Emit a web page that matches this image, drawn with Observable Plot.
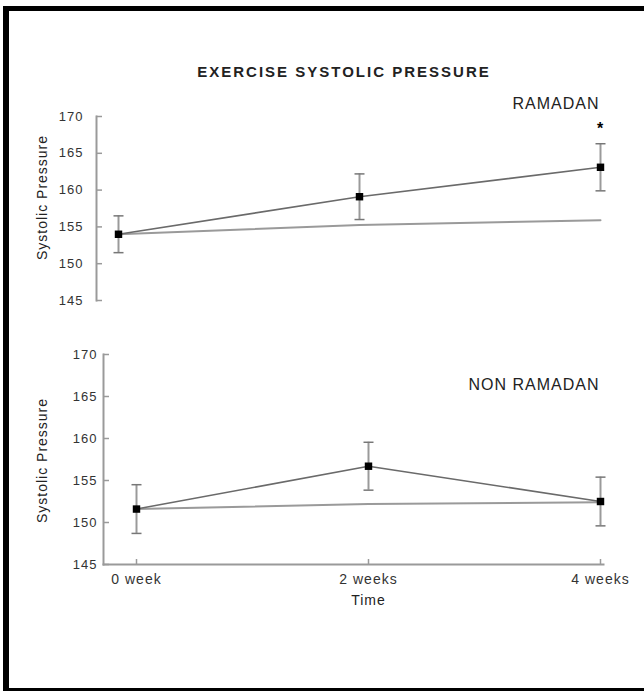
<!DOCTYPE html>
<html><head><meta charset="utf-8">
<script src="https://cdn.jsdelivr.net/npm/d3@7"></script>
<script src="https://cdn.jsdelivr.net/npm/@observablehq/plot@0.6"></script>
<style>
body{margin:0;background:#fff;}
#wrap{position:relative;width:644px;height:691px;background:#fff;overflow:hidden;font-family:"Liberation Sans",Arial,sans-serif;}
#border{position:absolute;left:3px;top:6px;right:0;bottom:0;border-left:6px solid #000;border-top:5px solid #000;border-bottom:3px solid #000;}
#title{position:absolute;left:0;width:688px;top:64px;text-align:center;font-weight:bold;font-size:15px;letter-spacing:2px;color:#222;line-height:16px;}
.panel{position:absolute;left:0;}
.panel svg{background:none !important;font-family:"Liberation Sans",Arial,sans-serif;}
.panel text{letter-spacing:1px;}
</style></head>
<body>
<div id="wrap">
  <div id="border"></div>
  <div id="title">EXERCISE SYSTOLIC PRESSURE</div>
  <div class="panel" id="p1" style="top:0px"></div>
  <div class="panel" id="p2" style="top:320px"></div>
</div>
<script>
const times = ["0 week", "2 weeks", "4 weeks"];
const yTicks = [145, 150, 155, 160, 165, 170];
const ramadanMean = [154.0, 159.1, 163.1];
const ramadanErr = [2.5, 3.1, 3.2];
const ramadanBase = [154.0, 155.25, 155.9];
const nonRamadanMean = [151.6, 156.7, 152.5];
const nonRamadanErr = [2.9, 2.85, 2.9];
const nonRamadanBase = [151.6, 152.2, 152.4];
const starPoint = [{t: "4 weeks", y: 168.9}];

// horizontal cap symbol for error bars
const capSymbol = {
  draw(context, size) {
    const h = Math.sqrt(size / Math.PI);
    context.moveTo(-h, 0);
    context.lineTo(h, 0);
  }
};

function rows(mean, err, base) {
  return times.map((t, i) => ({t, mean: mean[i], err: err[i], base: base[i]}));
}

function seriesMarks(data) {
  return [
    Plot.line(data, {x: "t", y: "base", stroke: "#9a9a9a", strokeWidth: 2}),
    Plot.line(data, {x: "t", y: "mean", stroke: "#6a6a6a", strokeWidth: 1.6}),
    Plot.ruleX(data, {x: "t", y1: d => d.mean - d.err, y2: d => d.mean + d.err, stroke: "#9a9a9a", strokeWidth: 2}),
    Plot.dot(data, {x: "t", y: d => d.mean + d.err, symbol: capSymbol, r: 5, fill: "none", stroke: "#777", strokeWidth: 1.5}),
    Plot.dot(data, {x: "t", y: d => d.mean - d.err, symbol: capSymbol, r: 5, fill: "none", stroke: "#777", strokeWidth: 1.5}),
    Plot.dot(data, {x: "t", y: "mean", symbol: "square", r: 4.2, fill: "#000", stroke: "none"})
  ];
}

const topChart = Plot.plot({
  width: 644, height: 320,
  marginTop: 116, marginBottom: 20, marginLeft: 96, marginRight: 44,
  x: {type: "point", domain: times, range: [118, 600], padding: 0, axis: null},
  y: {domain: [145, 170], axis: null},
  marks: [
    Plot.frame({anchor: "left", stroke: "#9a9a9a", strokeWidth: 2}),
    Plot.axisY({ticks: yTicks, tickSize: -6, tickFormat: () => "", stroke: "#9a9a9a", strokeWidth: 1.5, label: null}),
    Plot.axisY({ticks: yTicks, tickSize: 0, tickPadding: 13, fontSize: 13, fill: "#333", label: null}),
    ...seriesMarks(rows(ramadanMean, ramadanErr, ramadanBase)),
    Plot.text(starPoint, {x: "t", y: "y", text: () => "*", fontSize: 16, fontWeight: "bold", fill: "#000", dy: 4}),
    Plot.text(["RAMADAN"], {frameAnchor: "top-right", text: d => d, textAnchor: "end", dy: -19, dx: -1, fontSize: 16, fill: "#222"}),
    Plot.text(["Systolic Pressure"], {frameAnchor: "left", text: d => d, textAnchor: "middle", rotate: -90, dx: -54, dy: -11, fontSize: 14, fill: "#222"})
  ]
});
document.getElementById("p1").appendChild(topChart);

const bottomChart = Plot.plot({
  width: 644, height: 371,
  marginTop: 34, marginBottom: 127, marginLeft: 103, marginRight: 41,
  x: {type: "point", domain: times, range: [135, 600], padding: 0, axis: null},
  y: {domain: [145, 170], axis: null},
  marks: [
    Plot.frame({anchor: "left", stroke: "#9a9a9a", strokeWidth: 2}),
    Plot.frame({anchor: "bottom", stroke: "#9a9a9a", strokeWidth: 2}),
    Plot.axisY({ticks: yTicks, tickSize: -6, tickFormat: () => "", stroke: "#9a9a9a", strokeWidth: 1.5, label: null}),
    Plot.axisY({ticks: yTicks, tickSize: 0, tickPadding: 6, fontSize: 13, fill: "#333", label: null}),
    Plot.axisX({tickSize: -5, tickFormat: () => "", stroke: "#9a9a9a", strokeWidth: 1.5, label: null}),
    Plot.axisX({tickSize: 0, tickPadding: 10, fontSize: 14, fill: "#333", label: null}),
    ...seriesMarks(rows(nonRamadanMean, nonRamadanErr, nonRamadanBase)),
    Plot.text([{t: times[1]}], {x: "t", frameAnchor: "bottom", text: () => "Time", dy: 40, fontSize: 14, fill: "#222"}),
    Plot.text(["NON RAMADAN"], {frameAnchor: "top-right", text: d => d, textAnchor: "end", dy: 24, dx: -4, fontSize: 16, fill: "#222"}),
    Plot.text(["Systolic Pressure"], {frameAnchor: "left", text: d => d, textAnchor: "middle", rotate: -90, dx: -61, dy: 1, fontSize: 14, fill: "#222"})
  ]
});
document.getElementById("p2").appendChild(bottomChart);
</script>
</body></html>
